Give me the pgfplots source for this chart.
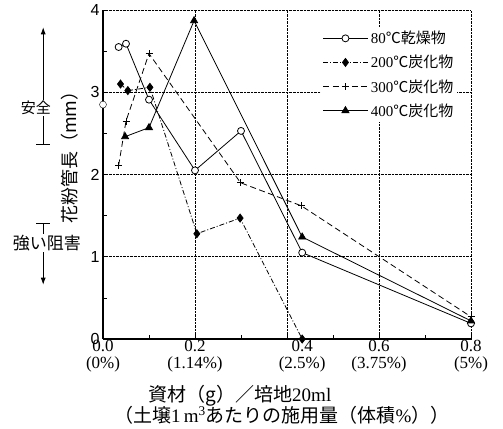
\documentclass[border=0pt]{standalone}
\usepackage{fontspec}
\setmainfont{Liberation Serif}
\newfontfamily\cjk{Noto Sans CJK JP}
\newfontfamily\sansf{Liberation Sans}
\usepackage{pgfplots}
\pgfplotsset{compat=1.18}
\usetikzlibrary{arrows.meta}

\begin{document}
\begin{tikzpicture}
\begin{axis}[
    scale only axis,
    width=368bp,
    height=329bp,
    xmin=0, xmax=0.8,
    ymin=0, ymax=4,
    clip=false,
    axis x line*=bottom,
    axis y line*=left,
    axis line style={-, line width=1.4bp},
    xtick={0,0.2,0.433,0.6,0.8},
    xticklabels={{0.0\\(0\%)},{0.2\\(1.14\%)},{0.4\\(2.5\%)},{0.6\\(3.75\%)},{0.8\\(5\%)}},
    minor xtick={0.1,0.3,0.4,0.5,0.7},
    extra x ticks={0.2,0.4,0.6,0.8},
    extra x tick labels={},
    extra x tick style={grid=major},
    ytick={0,1,2,3,4},
    minor ytick={0.5,1.5,2.5,3.5},
    ymajorgrids,
    major grid style={densely dotted, line width=0.9bp, black},
    tick align=inside,
    tick style={black, line width=0.7bp},
    major tick length=4bp,
    minor tick length=4bp,
    /pgf/number format/assume math mode=true,
    xticklabel style={align=center, font=\fontsize{17bp}{17bp}\selectfont, inner sep=1bp},
    yticklabel style={font=\sansf\fontsize{16bp}{16bp}\selectfont},
    ylabel={\cjk 花粉管長（mm）},
    ylabel style={at={(axis description cs:-0.09,0.565)}, anchor=center, font=\fontsize{18bp}{18bp}\selectfont},
    legend style={at={(axis description cs:0.592,0.948)}, anchor=north west,
        fill=white, draw=none, font=\fontsize{15bp}{18bp}\selectfont,
        row sep=6bp, inner sep=2bp},
    legend cell align=left,
    legend image code/.code={\draw[mark repeat=2, mark phase=2, #1]
        plot coordinates {(0bp,0bp) (22bp,0bp) (45bp,0bp)};},
]
% 80C dried
\addplot[black, line width=0.8bp, mark=*, mark size=3.5bp, mark options={solid, fill=white}]
    coordinates {(0.034,3.55) (0.050,3.59) (0.100,2.91) (0.200,2.05) (0.300,2.53) (0.433,1.05) (0.8,0.19)};
\addlegendentry{80{\cjk ℃乾燥物}}
% 200C
\addplot[black, line width=0.8bp, dash pattern=on 5bp off 2bp on 1bp off 2bp, mark=diamond*, mark size=4bp, mark options={solid}]
    coordinates {(0.038,3.10) (0.054,3.02) (0.102,3.06) (0.204,1.28) (0.298,1.47) (0.433,0)};
\addlegendentry{200{\cjk ℃炭化物}}
% 300C
\addplot[black, line width=0.8bp, dash pattern=on 6bp off 3.5bp, mark=+, mark size=3.5bp, mark options={solid}]
    coordinates {(0.034,2.11) (0.050,2.65) (0.100,3.47) (0.299,1.90) (0.431,1.62) (0.8,0.27)};
\addlegendentry{300{\cjk ℃炭化物}}
% 400C
\addplot[black, line width=0.8bp, mark=triangle*, mark size=4bp, mark options={solid}]
    coordinates {(0.048,2.46) (0.100,2.57) (0.198,3.87) (0.433,1.24) (0.8,0.22)};
\addlegendentry{400{\cjk ℃炭化物}}
% control
\addplot[only marks, forget plot, mark=*, mark size=3.5bp, mark options={fill=white}]
    coordinates {(0,2.85)};

% left annotations
\draw[-{Latex[length=7bp,width=5bp]}, line width=0.8bp] (axis cs:-0.130,2.36) -- (axis cs:-0.130,3.79);
\draw[line width=0.8bp] (axis cs:-0.145,2.36) -- (axis cs:-0.115,2.36);
\node[fill=white, inner sep=1bp, font=\cjk\fontsize{15bp}{15bp}\selectfont] at (axis cs:-0.146,2.81) {安全};
\draw[-{Latex[length=7bp,width=5bp]}, line width=0.8bp] (axis cs:-0.130,1.41) -- (axis cs:-0.130,0.66);
\draw[line width=0.8bp] (axis cs:-0.145,1.41) -- (axis cs:-0.115,1.41);
\node[fill=white, inner sep=1bp, font=\cjk\fontsize{17bp}{17bp}\selectfont] at (axis cs:-0.122,1.17) {強い阻害};

% x label
\node[font=\fontsize{19bp}{19bp}\selectfont] at (axis description cs:0.372,-0.172) {{\cjk 資材（g）／培地}20ml};
\node[font=\fontsize{19bp}{19bp}\selectfont] at (axis description cs:0.486,-0.232) {{\cjk （土壌}1\,m\textsuperscript{3}{\cjk あたりの施用量（体積}\%{\cjk ））}};

\coordinate (bl) at (rel axis cs:0,0);
\coordinate (tr) at (rel axis cs:1,1);
\end{axis}
\pgfresetboundingbox
\path ([shift={(-103bp,-89bp)}]bl) rectangle ([shift={(32bp,10bp)}]tr);
\end{tikzpicture}
\end{document}
